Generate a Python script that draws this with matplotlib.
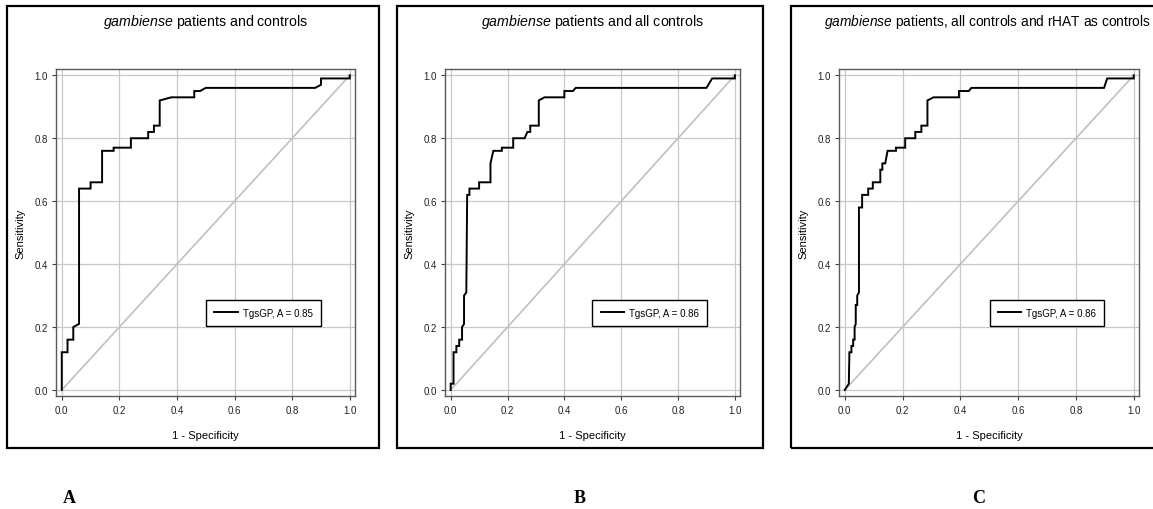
import matplotlib
matplotlib.use("Agg")
import matplotlib.pyplot as plt
from matplotlib.patches import Rectangle

plt.rcParams['font.family'] = ['Liberation Sans', 'DejaVu Sans']
plt.rcParams['mathtext.fontset'] = 'custom'
plt.rcParams['mathtext.it'] = 'Liberation Sans:italic'
plt.rcParams['mathtext.rm'] = 'Liberation Sans'

# ---------------- data ----------------
titles = [r"$\it{gambiense}$ patients and controls",
          r"$\it{gambiense}$ patients and all controls",
          r"$\it{gambiense}$ patients, all controls and rHAT as controls"]
panel_letters = ["A", "B", "C"]
legend_labels = ["TgsGP, A = 0.85", "TgsGP, A = 0.86", "TgsGP, A = 0.86"]

fpr_a = [0, 0, 0.02, 0.02, 0.04, 0.04, 0.06, 0.06, 0.10, 0.10, 0.14, 0.14, 0.18, 0.18,
         0.24, 0.24, 0.30, 0.30, 0.32, 0.32, 0.34, 0.34, 0.38, 0.46, 0.46, 0.48, 0.50,
         0.88, 0.90, 0.90, 1.0, 1.0]
tpr_a = [0, 0.12, 0.12, 0.16, 0.16, 0.20, 0.21, 0.64, 0.64, 0.66, 0.66, 0.76, 0.76, 0.77,
         0.77, 0.80, 0.80, 0.82, 0.82, 0.84, 0.84, 0.92, 0.93, 0.93, 0.95, 0.95, 0.96,
         0.96, 0.97, 0.99, 0.99, 1.0]

fpr_b = [0, 0, 0.01, 0.01, 0.02, 0.02, 0.03, 0.03, 0.04, 0.04, 0.047, 0.047, 0.055, 0.058,
         0.066, 0.066, 0.10, 0.10, 0.14, 0.14, 0.15, 0.18, 0.18, 0.22, 0.22, 0.26, 0.27,
         0.28, 0.28, 0.31, 0.31, 0.33, 0.40, 0.40, 0.43, 0.44, 0.90, 0.92, 1.0, 1.0]
tpr_b = [0, 0.02, 0.02, 0.12, 0.12, 0.14, 0.14, 0.16, 0.16, 0.20, 0.21, 0.30, 0.31, 0.62,
         0.62, 0.64, 0.64, 0.66, 0.66, 0.72, 0.76, 0.76, 0.77, 0.77, 0.80, 0.80, 0.82,
         0.82, 0.84, 0.84, 0.92, 0.93, 0.93, 0.95, 0.95, 0.96, 0.96, 0.99, 0.99, 1.0]

fpr_c = [0, 0.014, 0.016, 0.023, 0.023, 0.029, 0.029, 0.034, 0.034, 0.038, 0.038, 0.043,
         0.043, 0.049, 0.049, 0.06, 0.06, 0.081, 0.081, 0.097, 0.097, 0.123, 0.123, 0.13,
         0.13, 0.14, 0.148, 0.177, 0.177, 0.209, 0.209, 0.244, 0.244, 0.265, 0.265, 0.286,
         0.286, 0.307, 0.395, 0.395, 0.429, 0.438, 0.897, 0.908, 1.0, 1.0]
tpr_c = [0, 0.02, 0.12, 0.12, 0.14, 0.14, 0.16, 0.16, 0.20, 0.21, 0.27, 0.27, 0.30, 0.31,
         0.58, 0.58, 0.62, 0.62, 0.64, 0.64, 0.66, 0.66, 0.70, 0.70, 0.72, 0.72, 0.76,
         0.76, 0.77, 0.77, 0.80, 0.80, 0.82, 0.82, 0.84, 0.84, 0.92, 0.93, 0.93, 0.95,
         0.95, 0.96, 0.96, 0.99, 0.99, 1.0]

ticks = [0.0, 0.2, 0.4, 0.6, 0.8, 1.0]
tick_labels = ["0.0", "0.2", "0.4", "0.6", "0.8", "1.0"]
x_label = "1 - Specificity"
y_label = "Sensitivity"

curves = [(fpr_a, tpr_a), (fpr_b, tpr_b), (fpr_c, tpr_c)]

# ---------------- layout (pixels) ----------------
W, H = 1153, 510
fig = plt.figure(figsize=(W / 100, H / 100), dpi=100)

axes_px = [(56, 355, 70, 397.3), (445, 740, 70, 397.3), (839, 1139, 70, 397.3)]
boxes_px = [(7, 379, 7, 449), (397, 763, 7, 449), (790.7, 1165, 7, 449)]
letter_x = [69, 580, 979]
title_sizes = [10.2, 10.2, 9.95]

for i in range(3):
    l, r, t, b = axes_px[i]
    ax = fig.add_axes([l / W, 1 - b / H, (r - l) / W, (b - t) / H])
    ax.set_xlim(-0.02, 1.018)
    ax.set_ylim(-0.02, 1.02)
    ax.set_xticks(ticks)
    ax.set_yticks(ticks)
    ax.set_xticklabels(tick_labels, fontsize=7, color='#222222')
    ax.set_yticklabels(tick_labels, fontsize=7, color='#222222')
    ax.tick_params(length=3, width=0.8, color='#404040', pad=3)
    ax.grid(True, color='#c8c8c8', lw=0.9)
    ax.set_axisbelow(True)
    for s in ax.spines.values():
        s.set_color('#5a5a5a')
        s.set_linewidth(1.0)
    ax.plot([0, 1], [0, 1], color='#c0c0c0', lw=1.2, zorder=2)
    fx, ty = curves[i]
    ax.plot(fx, ty, color='black', lw=1.4, zorder=3, label=legend_labels[i],
            solid_joinstyle='miter')
    ax.set_xlabel(x_label, fontsize=8)
    ax.set_ylabel(y_label, fontsize=8)
    ax.xaxis.set_label_coords(0.5, -34 / (b - t))
    ax.yaxis.set_label_coords(-31 / (r - l), 0.5)
    leg = ax.legend(loc='center', bbox_to_anchor=(0.70, 0.245), bbox_transform=ax.transData,
                    fontsize=7, frameon=True, fancybox=False, framealpha=1,
                    edgecolor='black', borderpad=0.85, handlelength=2.4,
                    handletextpad=0.5)
    leg.get_frame().set_linewidth(1.0)

    fig.text((l + r) / 2 / W - (0.0015 if i == 2 else 0), 1 - 21.7 / H, titles[i],
             ha='center', va='center', fontsize=title_sizes[i])

    bl, br, bt, bb = boxes_px[i]
    fig.patches.append(Rectangle((bl / W, 1 - bb / H), (br - bl) / W, (bb - bt) / H,
                                 transform=fig.transFigure, fill=False, lw=1.6,
                                 edgecolor='black'))
    fig.text(letter_x[i] / W, 1 - 499 / H, panel_letters[i], ha='center', va='center',
             fontsize=13, fontweight='bold', family='Liberation Serif')

fig.savefig("out.png", dpi=100)
